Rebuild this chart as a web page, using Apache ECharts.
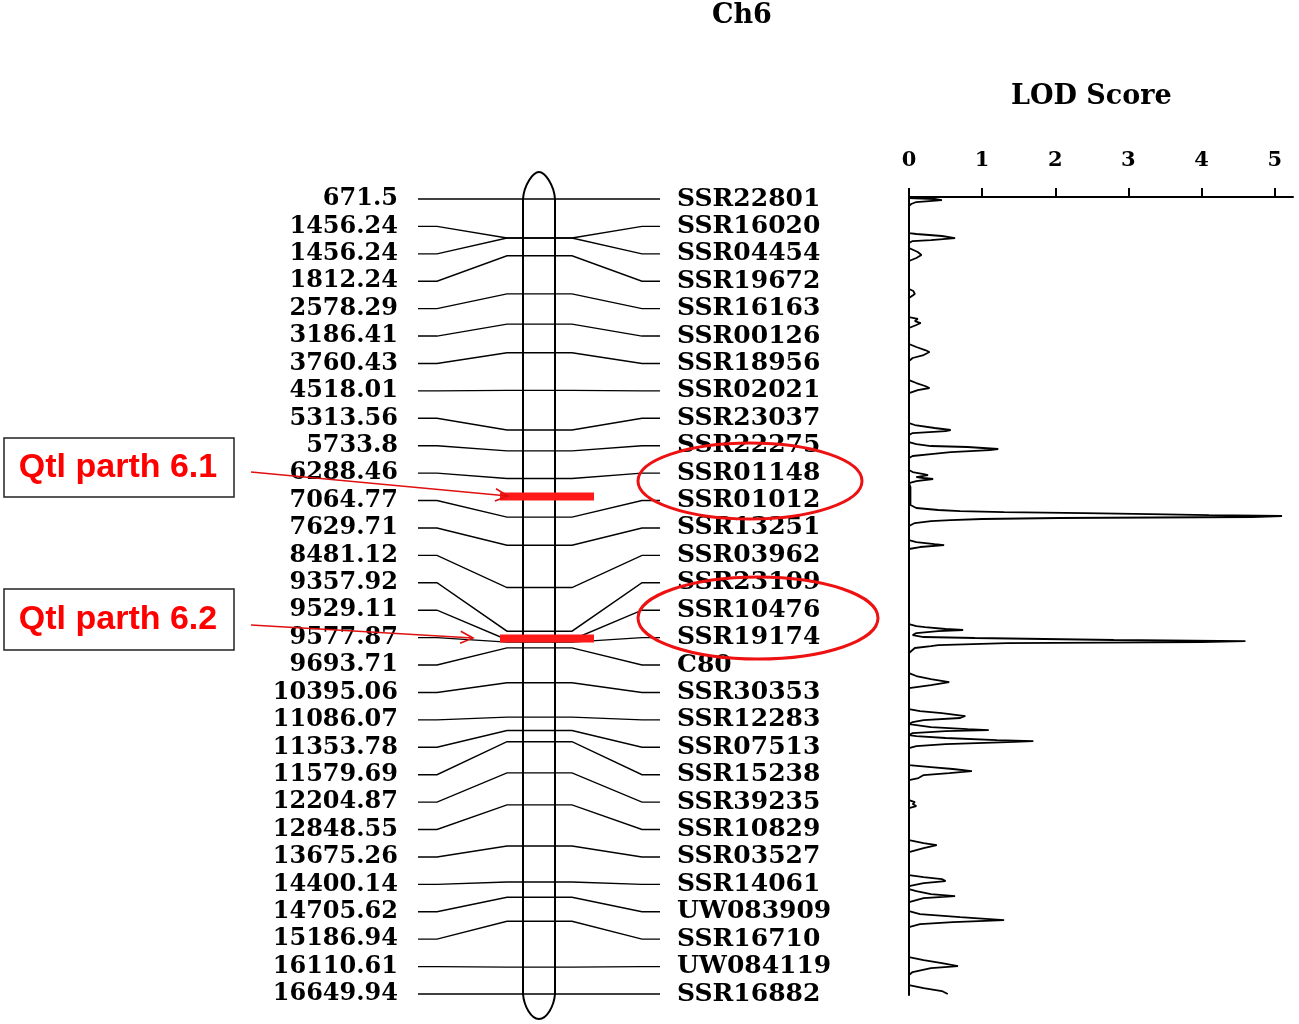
<!DOCTYPE html>
<html>
<head>
<meta charset="utf-8">
<script src="https://cdn.jsdelivr.net/npm/echarts@6/dist/echarts.min.js"></script>
<style>html,body{margin:0;padding:0;background:#fff}#c{width:1299px;height:1024px}</style>
</head>
<body>
<div id="c"></div>
<script>
// ---- data ----
const positionLabels = ['671.5','1456.24','1456.24','1812.24','2578.29','3186.41','3760.43','4518.01','5313.56','5733.8','6288.46','7064.77','7629.71','8481.12','9357.92','9529.11','9577.87','9693.71','10395.06','11086.07','11353.78','11579.69','12204.87','12848.55','13675.26','14400.14','14705.62','15186.94','16110.61','16649.94'];
const markerPositions = [671.5,1456.24,1456.24,1812.24,2578.29,3186.41,3760.43,4518.01,5313.56,5733.8,6288.46,7064.77,7629.71,8481.12,9357.92,9529.11,9577.87,9693.71,10395.06,11086.07,11353.78,11579.69,12204.87,12848.55,13675.26,14400.14,14705.62,15186.94,16110.61,16649.94];
const markerNames = ['SSR22801','SSR16020','SSR04454','SSR19672','SSR16163','SSR00126','SSR18956','SSR02021','SSR23037','SSR22275','SSR01148','SSR01012','SSR13251','SSR03962','SSR23109','SSR10476','SSR19174','C80','SSR30353','SSR12283','SSR07513','SSR15238','SSR39235','SSR10829','SSR03527','SSR14061','UW083909','SSR16710','UW084119','SSR16882'];
const qtlBarPositions = [6650, 9505];
const qtlNames = ['Qtl parth 6.1', 'Qtl parth 6.2'];
const lodTicks = [0, 1, 2, 3, 4, 5];
const lodPos = [651,671.5,692,732,772,812,
 1355,1375,1415,1456,1496,1516,1556,
 1656,1737,1797,1857,1918,
 2480,2521,2581,2621,2661,
 3043,3083,3124,3164,3204,3264,
 3586,3646,3707,3747,3807,3867,3928,
 4310,4370,4430,4470,4511,4571,
 5174,5214,5274,5314,5335,5375,5415,
 5556,5596,5636,5656,5696,5717,5757,5797,5837,5877,
 6119,6159,6199,6219,6259,6279,6299,6340,6380,
 6460,6822,
 6842,6882,6922,6943,6963,6983,7003,7023,7043,7063,7083,7103,7124,7144,7184,7244,
 7526,7566,7606,7626,7666,7706,
 9214,9254,9274,9314,9334,9355,9395,9435,9475,9495,9535,9556,9576,9596,9636,9656,9696,9797,
 10199,10259,10319,10380,10440,10500,
 10922,10963,11003,11063,11103,11144,11184,11224,
 11244,11284,11325,11345,11365,11405,11445,
 11465,11505,11546,11566,11586,11626,11666,11706,
 12048,12088,12128,12169,12209,12249,12309,12349,
 12752,12792,12832,12872,12912,
 13556,13616,13656,13716,13797,
 14259,14299,14339,14380,14420,14480,
 14540,14580,14641,14681,14721,14802,
 14983,15043,15103,15143,15164,15204,15244,15304,
 15907,15967,16028,16088,16128,16208,16269,
 16470,16530,16591,16649.94];
const lodVal = [0,0.35,0.45,0.1,0.03,0,
 0,0.1,0.45,0.63,0.3,0.05,0,
 0,0.12,0.17,0.1,0,
 0,0.06,0.08,0.04,0,
 0,0.12,0.08,0.16,0.1,0,
 0,0.1,0.22,0.28,0.2,0.05,0,
 0,0.1,0.22,0.28,0.12,0,
 0,0.08,0.35,0.57,0.5,0.05,0,
 0,0.1,0.3,0.8,1.22,1.1,0.57,0.3,0.05,0,
 0,0.05,0.2,0.26,0.1,0.2,0.33,0.1,0,
 0.02,0.02,
 0.03,0.1,0.4,0.7,1.3,2.4,3.3,4.1,5.1,4.7,2.05,1.0,0.57,0.3,0.08,0,
 0,0.1,0.35,0.48,0.15,0,
 0,0.1,0.22,0.5,0.74,0.4,0.1,0.05,0.2,0.9,2.8,4.6,4.0,1.34,0.4,0.3,0.08,0,
 0,0.1,0.3,0.55,0.3,0,
 0,0.15,0.45,0.77,0.7,0.2,0.05,0,
 0,0.3,0.8,1.09,0.5,0.05,0,
 0.1,0.5,1.2,1.7,1.35,0.5,0.1,0,
 0,0.3,0.6,0.86,0.55,0.2,0.13,0,
 0,0.08,0.05,0.1,0,
 0,0.2,0.38,0.2,0,
 0,0.2,0.45,0.5,0.2,0,
 0,0.1,0.3,0.63,0.2,0,
 0,0.15,0.7,1.1,1.3,0.6,0.15,0,
 0,0.2,0.45,0.67,0.3,0.05,0,
 0,0.2,0.45,0.53];

// ---- layout / style ----
const POS_MIN = markerPositions[0];
const POS_MAX = markerPositions[markerPositions.length - 1];
const N = markerPositions.length;
const SERIF = '"DejaVu Serif", serif';
const X = {start: 0, leftFlatEnd: 19, leftBend: 89, chrL: 105, chrR: 137, rightBend: 154, rightFlatStart: 224, end: 242};

const chart = echarts.init(document.getElementById('c'), null, {renderer: 'canvas'});

function rowPos(i) { return POS_MIN + i * (POS_MAX - POS_MIN) / (N - 1); }

const option = {
  backgroundColor: '#fff',
  animation: false,
  grid: [
    {left: 418, right: 1299 - 660, top: 199, bottom: 1024 - 994},
    {left: 909, right: 6, top: 197, bottom: 1024 - 995}
  ],
  xAxis: [
    {gridIndex: 0, type: 'value', min: X.start, max: X.end, show: false},
    {gridIndex: 1, type: 'value', position: 'top', min: 0, max: 5.25, interval: 1,
     splitLine: {show: false},
     axisLine: {show: true, lineStyle: {color: '#000', width: 2}},
     axisTick: {show: true, length: 9, lineStyle: {color: '#000', width: 2}, customValues: lodTicks},
     axisLabel: {show: true, margin: 26, color: '#000', fontFamily: SERIF, fontWeight: 'bold', fontSize: 21, customValues: lodTicks}}
  ],
  yAxis: [
    {gridIndex: 0, type: 'value', min: 0, max: N - 1, interval: 1, inverse: true, position: 'left',
     axisLine: {show: false}, axisTick: {show: false}, splitLine: {show: false},
     axisLabel: {margin: 20, color: '#000', fontFamily: SERIF, fontWeight: 'bold', fontSize: 24,
       formatter: v => positionLabels[v] || ''}},
    {gridIndex: 0, type: 'value', min: 0, max: N - 1, interval: 1, inverse: true, position: 'right',
     axisLine: {show: false}, axisTick: {show: false}, splitLine: {show: false},
     axisLabel: {margin: 17, color: '#000', fontFamily: SERIF, fontWeight: 'bold', fontSize: 25,
       formatter: v => markerNames[v] || ''}},
    {gridIndex: 0, type: 'value', min: POS_MIN, max: POS_MAX, inverse: true, show: false},
    {gridIndex: 1, type: 'value', min: 631, max: 16670, inverse: true,
     axisLine: {show: true, onZero: false, lineStyle: {color: '#000', width: 2}},
     axisTick: {show: false}, axisLabel: {show: false}, splitLine: {show: false}}
  ],
  series: [
    { // chromosome outline
      type: 'custom', xAxisIndex: 0, yAxisIndex: 2, clip: false, z: 2,
      data: [[X.chrL, POS_MIN]],
      renderItem: function (params, api) {
        const tl = api.coord([X.chrL, POS_MIN]), tr = api.coord([X.chrR, POS_MIN]);
        const bl = api.coord([X.chrL, POS_MAX]), br = api.coord([X.chrR, POS_MAX]);
        const cx = (tl[0] + tr[0]) / 2;
        const t = tl[1] - 27, b = bl[1] + 25;
        const d = `M${tl[0]} ${tl[1]} C${tl[0] + 1} ${tl[1] - 14} ${cx - 6} ${t} ${cx} ${t} C${cx + 6} ${t} ${tr[0] - 1} ${tr[1] - 14} ${tr[0]} ${tr[1]} ` +
                  `L${br[0]} ${br[1]} C${br[0] - 1} ${br[1] + 12} ${cx + 8} ${b} ${cx} ${b} C${cx - 8} ${b} ${bl[0] + 1} ${bl[1] + 12} ${bl[0]} ${bl[1]} Z`;
        return {type: 'path', shape: {pathData: d}, style: {fill: null, stroke: '#000', lineWidth: 2}};
      }
    },
    { // connectors
      type: 'custom', xAxisIndex: 0, yAxisIndex: 2, clip: false, z: 3,
      data: markerPositions.map(p => [X.chrL, p]),
      renderItem: function (params, api) {
        const i = params.dataIndex;
        const pos = api.value(1);
        const row = rowPos(i);
        const pts = [[X.start, row], [X.leftFlatEnd, row], [X.leftBend, pos], [X.rightBend, pos], [X.rightFlatStart, row], [X.end, row]]
          .map(p => api.coord(p));
        return {type: 'polyline', shape: {points: pts}, style: {fill: null, stroke: '#000', lineWidth: 1.4}};
      }
    },
    { // QTL bars
      type: 'custom', xAxisIndex: 0, yAxisIndex: 2, clip: false, z: 5,
      data: qtlBarPositions.map(p => [X.chrL, p]),
      renderItem: function (params, api) {
        const a = api.coord([82, api.value(1)]);
        const b = api.coord([176, api.value(1)]);
        return {type: 'rect', shape: {x: a[0], y: a[1] - 4, width: b[0] - a[0], height: 8}, style: {fill: '#ff1a1a'}};
      }
    },
    { // LOD profile
      type: 'line', xAxisIndex: 1, yAxisIndex: 3, showSymbol: false, symbol: 'none', clip: false, z: 4,
      data: lodPos.map((p, i) => [lodVal[i], p]),
      lineStyle: {color: '#000', width: 1.8}
    }
  ],
  graphic: []
};

// annotations
const g = [];
g.push({type: 'text', left: 712, top: 2, style: {text: 'Ch6', font: 'bold 27px ' + SERIF, fill: '#000'}});
g.push({type: 'text', left: 1011, top: 83, style: {text: 'LOD Score', font: 'bold 27px ' + SERIF, fill: '#000'}});
const boxes = [{x: 4, y: 438, h: 59}, {x: 4, y: 589, h: 61}];
boxes.forEach((b, k) => {
  g.push({type: 'rect', shape: {x: b.x, y: b.y, width: 230, height: b.h}, style: {fill: '#fff', stroke: '#222', lineWidth: 1.5}, z: 10});
  g.push({type: 'text', x: b.x + 114, y: b.y + b.h / 2, style: {text: qtlNames[k], font: 'bold 34px "Liberation Sans", sans-serif', fill: '#ff0000', textAlign: 'center', textVerticalAlign: 'middle'}, z: 11});
});
const arrows = [[251, 472, 508, 496], [251, 625, 473, 638]];
arrows.forEach(a => {
  const [x1, y1, x2, y2] = a;
  const ang = Math.atan2(y2 - y1, x2 - x1);
  const L = 14, s = 0.45;
  g.push({type: 'line', shape: {x1, y1, x2, y2}, style: {stroke: '#e01010', lineWidth: 1.6}, z: 12});
  g.push({type: 'polyline', shape: {points: [
    [x2 - L * Math.cos(ang - s), y2 - L * Math.sin(ang - s)], [x2, y2], [x2 - L * Math.cos(ang + s), y2 - L * Math.sin(ang + s)]]},
    style: {stroke: '#e01010', lineWidth: 1.6, fill: null}, z: 12});
});
g.push({type: 'ellipse', shape: {cx: 750, cy: 481, rx: 112, ry: 38}, style: {fill: null, stroke: '#ee1111', lineWidth: 3}, z: 12});
g.push({type: 'ellipse', shape: {cx: 758, cy: 618, rx: 120, ry: 41}, style: {fill: null, stroke: '#ee1111', lineWidth: 3}, z: 12});
option.graphic = g;

chart.setOption(option);
</script>
</body>
</html>
